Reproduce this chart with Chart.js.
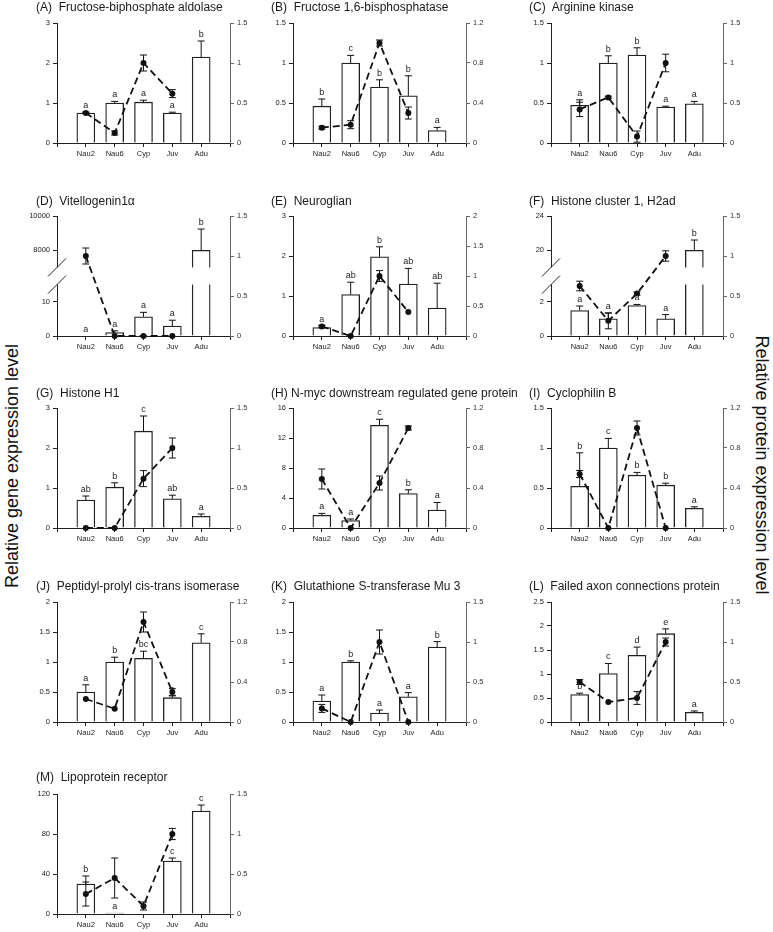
<!DOCTYPE html>
<html>
<head>
<meta charset="utf-8">
<title>Relative gene and protein expression</title>
<script src="https://cdn.jsdelivr.net/npm/chart.js@4.4.1/dist/chart.umd.min.js"></script>
<style>
  body { margin: 0; background: #fff; width: 773px; height: 932px; position: relative; overflow: hidden; font-family: "Liberation Sans", Arial, sans-serif; }
  .panel { position: absolute; }
  .ttl { position: absolute; font-size: 12px; line-height: 13px; color: #1a1a1a; white-space: pre; }
  .axt { position: absolute; font-size: 18px; line-height: 20px; color: #111; white-space: nowrap; }
</style>
</head>
<body>
<div class="axt" style="left:12px; top:466px; transform: translate(-50%, -50%) rotate(-90deg);">Relative gene expression level</div>
<div class="axt" style="left:762px; top:465px; transform: translate(-50%, -50%) rotate(90deg);">Relative protein expression level</div>
<script>
Chart.defaults.font.family = '"Liberation Sans", Arial, sans-serif';

const stages = ['Nau2', 'Nau6', 'Cyp', 'Juv', 'Adu'];

// (A) Fructose-biphosphate aldolase
const aGene = [0.75, 1.0, 1.02, 0.75, 2.15];
const aGeneErr = [0.02, 0.04, 0.05, 0.02, 0.4];
const aProt = [0.375, 0.125, 1.0, 0.617, null];
const aProtErr = [0.01, 0.025, 0.1, 0.05, null];
const aLetters = ['a', 'a', 'a', 'a', 'b'];
const aLeftTicks = [0, 1, 2, 3];
const aRightTicks = [0, 0.5, 1, 1.5];

// (B) Fructose 1,6-bisphosphatase
const bGene = [0.46, 1.0, 0.70, 0.59, 0.155];
const bGeneErr = [0.09, 0.095, 0.09, 0.25, 0.04];
const bProt = [0.153, 0.183, 1.0, 0.30, null];
const bProtErr = [0.015, 0.04, 0.03, 0.06, null];
const bLetters = ['b', 'c', 'b', 'b', 'a'];
const bLeftTicks = [0, 0.5, 1, 1.5];
const bRightTicks = [0, 0.4, 0.8, 1.2];

// (C) Arginine kinase
const cGene = [0.47, 1.0, 1.1, 0.45, 0.49];
const cGeneErr = [0.07, 0.09, 0.09, 0.01, 0.03];
const cProt = [0.42, 0.57, 0.08, 1.0, null];
const cProtErr = [0.09, 0.015, 0.07, 0.11, null];
const cLetters = ['a', 'b', 'b', 'a', 'a'];
const cLeftTicks = [0, 0.5, 1, 1.5];
const cRightTicks = [0, 0.5, 1, 1.5];

// (D) Vitellogenin1a (broken left axis)
const dGene = [0, 1.0, 5.6, 2.9, 8000];
const dGeneErr = [0, 0.5, 1.3, 1.7, 1240];
const dProt = [1.0, 0, 0, 0, null];
const dProtErr = [0.1, 0, 0, 0, null];
const dLetters = ['a', 'a', 'a', 'a', 'b'];
const dLeftTicks = [0, 10, 8000, 10000];
const dRightTicks = [0, 0.5, 1, 1.5];
const dBreak = { lowStep: 10, highBase: 8000, highStep: 2000 };

// (E) Neuroglian
const eGene = [0.21, 1.035, 1.98, 1.30, 0.70];
const eGeneErr = [0.05, 0.31, 0.25, 0.39, 0.62];
const eProt = [0.16, 0, 1.0, 0.40, null];
const eProtErr = [0.02, 0, 0.09, 0, null];
const eLetters = ['a', 'ab', 'b', 'ab', 'ab'];
const eLeftTicks = [0, 1, 2, 3];
const eRightTicks = [0, 0.5, 1, 1.5, 2];

// (F) Histone cluster 1, H2ad (broken left axis)
const fGene = [1.49, 1.0, 1.78, 1.0, 20];
const fGeneErr = [0.26, 0.33, 0.06, 0.25, 1.2];
const fProt = [0.625, 0.19, 0.53, 1.0, null];
const fProtErr = [0.06, 0.1, 0.02, 0.065, null];
const fLetters = ['a', 'a', 'a', 'a', 'b'];
const fLeftTicks = [0, 2, 20, 24];
const fRightTicks = [0, 0.5, 1, 1.5];
const fBreak = { lowStep: 2, highBase: 20, highStep: 4 };

// (G) Histone H1
const gGene = [0.7, 1.02, 2.42, 0.73, 0.29];
const gGeneErr = [0.1, 0.11, 0.38, 0.09, 0.06];
const gProt = [0, 0, 0.617, 1.0, null];
const gProtErr = [0, 0, 0.1, 0.125, null];
const gLetters = ['ab', 'b', 'c', 'ab', 'a'];
const gLeftTicks = [0, 1, 2, 3];
const gRightTicks = [0, 0.5, 1, 1.5];

// (H) N-myc downstream regulated gene protein
const hGene = [1.7, 1.0, 13.7, 4.6, 2.4];
const hGeneErr = [0.25, 0.2, 0.8, 0.5, 1.0];
const hProt = [0.49, 0, 0.45, 1.0, null];
const hProtErr = [0.1, 0, 0.07, 0.02, null];
const hLetters = ['a', 'a', 'c', 'b', 'a'];
const hLeftTicks = [0, 4, 8, 12, 16];
const hRightTicks = [0, 0.4, 0.8, 1.2];

// (I) Cyclophilin B
const iGene = [0.52, 1.0, 0.66, 0.535, 0.245];
const iGeneErr = [0.42, 0.12, 0.035, 0.025, 0.02];
const iProt = [0.54, 0, 1.0, 0, null];
const iProtErr = [0.035, 0, 0.07, 0, null];
const iLetters = ['b', 'c', 'b', 'b', 'a'];
const iLeftTicks = [0, 0.5, 1, 1.5];
const iRightTicks = [0, 0.4, 0.8, 1.2];

// (J) Peptidyl-prolyl cis-trans isomerase
const jGene = [0.5, 1.0, 1.06, 0.405, 1.32];
const jGeneErr = [0.12, 0.08, 0.12, 0.03, 0.15];
const jProt = [0.23, 0.133, 1.0, 0.30, null];
const jProtErr = [0, 0, 0.1, 0.033, null];
const jLetters = ['a', 'b', 'bc', 'a', 'c'];
const jLeftTicks = [0, 0.5, 1, 1.5, 2];
const jRightTicks = [0, 0.4, 0.8, 1.2];

// (K) Glutathione S-transferase Mu 3
const kGene = [0.35, 1.0, 0.15, 0.42, 1.25];
const kGeneErr = [0.1, 0.02, 0.05, 0.07, 0.09];
const kProt = [0.17, 0, 1.0, 0, null];
const kProtErr = [0.05, 0, 0.15, 0, null];
const kLetters = ['a', 'b', 'a', 'a', 'b'];
const kLeftTicks = [0, 0.5, 1, 1.5, 2];
const kRightTicks = [0, 0.5, 1, 1.5];

// (L) Failed axon connections protein
const lGene = [0.57, 1.01, 1.39, 1.84, 0.2];
const lGeneErr = [0.03, 0.21, 0.17, 0.1, 0.03];
const lProt = [0.5, 0.25, 0.3, 1.0, null];
const lProtErr = [0.03, 0, 0.08, 0.05, null];
const lLetters = ['b', 'c', 'd', 'e', 'a'];
const lLeftTicks = [0, 0.5, 1, 1.5, 2, 2.5];
const lRightTicks = [0, 0.5, 1, 1.5];

// (M) Lipoprotein receptor
const mGene = [30, 1, 0.5, 53, 103];
const mGeneErr = [8, 0, 0, 3, 6];
const mProt = [0.25, 0.45, 0.1, 1.0, null];
const mProtErr = [0.15, 0.25, 0.05, 0.07, null];
const mLetters = ['b', 'a', 'a', 'c', 'c'];
const mLeftTicks = [0, 40, 80, 120];
const mRightTicks = [0, 0.5, 1, 1.5];

// layout of the grid
const colLeft = [57, 293, 551];
const colRight = [230, 466, 723];
const rowTop = [23, 216, 408, 602, 794];
const rowBottom = [143, 336, 528, 722, 914];
const titleTop = [1, 195, 387, 580, 771];
const titleLeft = [36, 271, 529];
const PADL = 45, PADR = 35, PADT = 14, PADB = 22;

const panels = [
  { title: '(A)  Fructose-biphosphate aldolase', col: 0, row: 0, gene: aGene, geneErr: aGeneErr, prot: aProt, protErr: aProtErr, letters: aLetters, leftTicks: aLeftTicks, rightTicks: aRightTicks },
  { title: '(B)  Fructose 1,6-bisphosphatase', col: 1, row: 0, gene: bGene, geneErr: bGeneErr, prot: bProt, protErr: bProtErr, letters: bLetters, leftTicks: bLeftTicks, rightTicks: bRightTicks },
  { title: '(C)  Arginine kinase', col: 2, row: 0, gene: cGene, geneErr: cGeneErr, prot: cProt, protErr: cProtErr, letters: cLetters, leftTicks: cLeftTicks, rightTicks: cRightTicks },
  { title: '(D)  Vitellogenin1\u03b1', col: 0, row: 1, gene: dGene, geneErr: dGeneErr, prot: dProt, protErr: dProtErr, letters: dLetters, leftTicks: dLeftTicks, rightTicks: dRightTicks, brk: dBreak },
  { title: '(E)  Neuroglian', col: 1, row: 1, gene: eGene, geneErr: eGeneErr, prot: eProt, protErr: eProtErr, letters: eLetters, leftTicks: eLeftTicks, rightTicks: eRightTicks },
  { title: '(F)  Histone cluster 1, H2ad', col: 2, row: 1, gene: fGene, geneErr: fGeneErr, prot: fProt, protErr: fProtErr, letters: fLetters, leftTicks: fLeftTicks, rightTicks: fRightTicks, brk: fBreak },
  { title: '(G)  Histone H1', col: 0, row: 2, gene: gGene, geneErr: gGeneErr, prot: gProt, protErr: gProtErr, letters: gLetters, leftTicks: gLeftTicks, rightTicks: gRightTicks },
  { title: '(H) N-myc downstream regulated gene protein', col: 1, row: 2, gene: hGene, geneErr: hGeneErr, prot: hProt, protErr: hProtErr, letters: hLetters, leftTicks: hLeftTicks, rightTicks: hRightTicks },
  { title: '(I)  Cyclophilin B', col: 2, row: 2, gene: iGene, geneErr: iGeneErr, prot: iProt, protErr: iProtErr, letters: iLetters, leftTicks: iLeftTicks, rightTicks: iRightTicks },
  { title: '(J)  Peptidyl-prolyl cis-trans isomerase', col: 0, row: 3, gene: jGene, geneErr: jGeneErr, prot: jProt, protErr: jProtErr, letters: jLetters, leftTicks: jLeftTicks, rightTicks: jRightTicks },
  { title: '(K)  Glutathione S-transferase Mu 3', col: 1, row: 3, gene: kGene, geneErr: kGeneErr, prot: kProt, protErr: kProtErr, letters: kLetters, leftTicks: kLeftTicks, rightTicks: kRightTicks },
  { title: '(L)  Failed axon connections protein', col: 2, row: 3, gene: lGene, geneErr: lGeneErr, prot: lProt, protErr: lProtErr, letters: lLetters, leftTicks: lLeftTicks, rightTicks: lRightTicks },
  { title: '(M)  Lipoprotein receptor', col: 0, row: 4, gene: mGene, geneErr: mGeneErr, prot: mProt, protErr: mProtErr, letters: mLetters, leftTicks: mLeftTicks, rightTicks: mRightTicks }
];

function fmt(v) { return String(parseFloat(v.toFixed(3))); }
function pad(arr) { return [null, ...arr, null]; }

// error bars, significance letters and axis breaks
const panelDecor = {
  id: 'panelDecor',
  afterDatasetsDraw(chart) {
    const ctx = chart.ctx;
    const opts = chart.options.plugins.panelDecor;
    if (opts.brk) {
      const y = chart.scales.y;
      const yA = y.getPixelForValue(2.0), yB = y.getPixelForValue(1.5);
      const bars = chart.getDatasetMeta(0).data;
      ctx.save();
      ctx.fillStyle = '#fff';
      chart.data.datasets[0].data.forEach((v, j) => {
        if (v != null && v > 2.0) {
          const el = bars[j];
          ctx.fillRect(el.x - el.width / 2 - 2, yA, el.width + 4, yB - yA);
        }
      });
      const ax = chart.chartArea.left;
      ctx.fillRect(ax - 2, yA, 4, yB - yA);
      ctx.strokeStyle = '#222';
      ctx.lineWidth = 1;
      [yA, yB].forEach(yy => {
        ctx.beginPath();
        ctx.moveTo(ax - 9, yy + 9);
        ctx.lineTo(ax + 9, yy - 9);
        ctx.stroke();
      });
      ctx.restore();
    }
    chart.data.datasets.forEach((ds, i) => {
      const meta = chart.getDatasetMeta(i);
      const sc = chart.scales[ds.yAxisID];
      ctx.save();
      ctx.strokeStyle = '#111';
      ctx.lineWidth = 1;
      meta.data.forEach((el, j) => {
        const hi = ds.hi[j], lo = ds.lo[j];
        if (hi == null || hi === lo) return;
        const x = el.x, y1 = sc.getPixelForValue(hi), y0 = sc.getPixelForValue(lo);
        ctx.beginPath();
        ctx.moveTo(x, y0); ctx.lineTo(x, y1);
        ctx.moveTo(x - 3.5, y1); ctx.lineTo(x + 3.5, y1);
        if (ds.type === 'line') { ctx.moveTo(x - 3.5, y0); ctx.lineTo(x + 3.5, y0); }
        ctx.stroke();
      });
      if (ds.letters) {
        ctx.fillStyle = '#222';
        ctx.font = '9px "Liberation Sans", Arial, sans-serif';
        ctx.textAlign = 'center';
        ctx.textBaseline = 'bottom';
        meta.data.forEach((el, j) => {
          const s = ds.letters[j];
          if (!s) return;
          const top = ds.hi[j] != null ? ds.hi[j] : ds.data[j];
          ctx.fillText(s, el.x, sc.getPixelForValue(top) - 2);
        });
      }
      ctx.restore();
    });
  }
};

panels.forEach(p => {
  const toY = p.brk
    ? (v => v <= p.brk.lowStep * 1.5 ? v / p.brk.lowStep : 2.5 + (v - p.brk.highBase) / p.brk.highStep)
    : (v => v);
  const L = colLeft[p.col], R = colRight[p.col], T = rowTop[p.row], B = rowBottom[p.row];
  const W = R - L + PADL + PADR, H = B - T + PADT + PADB;

  const box = document.createElement('div');
  box.className = 'panel';
  box.style.left = (L - PADL) + 'px';
  box.style.top = (T - PADT) + 'px';
  box.style.width = W + 'px';
  box.style.height = H + 'px';
  const cv = document.createElement('canvas');
  cv.width = W;
  cv.height = H;
  box.appendChild(cv);
  document.body.appendChild(box);

  const t = document.createElement('div');
  t.className = 'ttl';
  t.textContent = p.title;
  t.style.left = titleLeft[p.col] + 'px';
  t.style.top = titleTop[p.row] + 'px';
  document.body.appendChild(t);

  const geneY = p.gene.map(toY);
  const geneHi = p.gene.map((v, i) => toY(v + p.geneErr[i]));
  const protHi = p.prot.map((v, i) => v == null ? null : v + p.protErr[i]);
  const protLo = p.prot.map((v, i) => v == null ? null : v - p.protErr[i]);
  const leftVals = p.leftTicks.map(toY);
  const leftMax = leftVals[leftVals.length - 1];
  const rightMax = p.rightTicks[p.rightTicks.length - 1];

  new Chart(cv, {
    type: 'bar',
    data: {
      labels: ['', ...stages, ''],
      datasets: [
        {
          type: 'bar', yAxisID: 'y', order: 1,
          data: pad(geneY), hi: pad(geneHi), lo: pad(geneY), letters: pad(p.letters),
          backgroundColor: '#fff', borderColor: '#222', borderWidth: 1.3, barThickness: 18, clip: false
        },
        {
          type: 'line', yAxisID: 'y1', order: 0,
          data: pad(p.prot), hi: pad(protHi), lo: pad(protLo),
          borderColor: '#111', borderWidth: 1.8, borderDash: [7, 4],
          pointRadius: 3, pointBackgroundColor: '#111', pointBorderColor: '#111', pointBorderWidth: 0,
          tension: 0, fill: false, clip: false, spanGaps: false
        }
      ]
    },
    options: {
      responsive: false,
      animation: false,
      layout: { padding: { top: PADT, left: 0, right: 0, bottom: 0 } },
      plugins: { legend: { display: false }, tooltip: { enabled: false }, panelDecor: { brk: !!p.brk } },
      scales: {
        x: {
          type: 'category', offset: false,
          grid: { offset: false, drawOnChartArea: false, tickLength: 4, color: '#222' },
          border: { color: '#222', width: 1 },
          ticks: { color: '#222', font: { size: 7.5 }, padding: 2, autoSkip: false, maxRotation: 0 },
          afterFit: s => { s.height = PADB; }
        },
        y: {
          position: 'left', min: 0, max: leftMax,
          afterBuildTicks: s => { s.ticks = leftVals.map(v => ({ value: v })); },
          ticks: { autoSkip: false, color: '#222', font: { size: 7.5 }, padding: 3, callback: (v, i) => fmt(p.leftTicks[i]) },
          grid: { drawOnChartArea: false, tickLength: 4, color: '#222' },
          border: { color: '#222' },
          afterFit: s => { s.width = PADL; }
        },
        y1: {
          position: 'right', min: 0, max: rightMax,
          afterBuildTicks: s => { s.ticks = p.rightTicks.map(v => ({ value: v })); },
          ticks: { autoSkip: false, color: '#333', font: { size: 7.5 }, padding: 3, callback: (v, i) => fmt(p.rightTicks[i]) },
          grid: { drawOnChartArea: false, tickLength: 4, color: '#666' },
          border: { color: '#666' },
          afterFit: s => { s.width = PADR; }
        }
      }
    },
    plugins: [panelDecor]
  });
});
</script>
</body>
</html>
